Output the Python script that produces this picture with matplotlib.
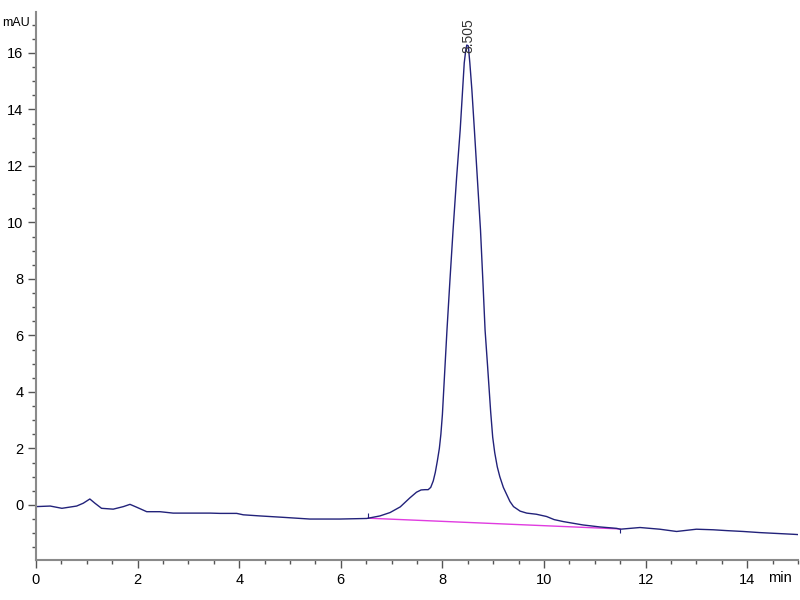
import numpy as np
import matplotlib.pyplot as plt
from matplotlib.ticker import MultipleLocator

plt.rcParams['font.family'] = ['Liberation Sans', 'DejaVu Sans']

# chromatogram trace (min, mAU)
time = [0.0, 0.28, 0.51, 0.80, 0.93, 1.06, 1.16, 1.29, 1.52, 1.72, 1.85, 1.98,
        2.18, 2.44, 2.70, 3.03, 3.43, 3.62, 3.95, 4.08, 4.41, 4.87, 5.39, 5.98,
        6.51, 6.54, 6.77, 6.97, 7.17, 7.36, 7.49, 7.58, 7.66, 7.72, 7.77, 7.82,
        7.86, 7.90, 7.94, 7.97, 8.00, 8.03, 8.09, 8.15, 8.21, 8.28, 8.35, 8.43,
        8.46, 8.48, 8.51, 8.54, 8.58, 8.63, 8.69, 8.75, 8.80, 8.84, 8.89, 8.95,
        8.99, 9.03, 9.08, 9.13, 9.20, 9.27, 9.33, 9.40, 9.53, 9.66, 9.85, 10.05,
        10.20, 10.38, 10.77, 11.10, 11.43, 11.50, 11.89, 12.28, 12.61, 13.00,
        13.33, 13.60, 13.92, 14.25, 14.91, 15.0]
signal = [-0.06, -0.04, -0.12, -0.04, 0.06, 0.21, 0.06, -0.12, -0.15, -0.06, 0.02, -0.08,
          -0.24, -0.24, -0.29, -0.29, -0.29, -0.30, -0.30, -0.35, -0.39, -0.44, -0.50, -0.50,
          -0.48, -0.47, -0.39, -0.27, -0.07, 0.25, 0.45, 0.53, 0.54, 0.54, 0.62, 0.85,
          1.15, 1.55, 2.00, 2.50, 3.20, 4.20, 6.19, 8.00, 9.73, 11.60, 13.27, 15.65,
          16.10, 16.28, 16.25, 15.65, 14.70, 13.27, 11.50, 9.73, 7.80, 6.19, 4.90, 3.30,
          2.40, 1.85, 1.35, 1.00, 0.62, 0.35, 0.12, -0.06, -0.22, -0.29, -0.33, -0.41,
          -0.52, -0.59, -0.71, -0.78, -0.83, -0.86, -0.80, -0.86, -0.94, -0.86,
          -0.88, -0.91, -0.94, -0.98, -1.04, -1.05]

# integration baseline
bl_time = [6.54, 11.50]
bl_signal = [-0.47, -0.85]

peak_rt = 8.505
peak_top = 16.0
peak_label = "8.505"

fig = plt.figure(figsize=(8, 6), dpi=100)
ax = fig.add_axes([36 / 800, 40 / 600, 762 / 800, 548 / 600])

ax.plot(bl_time, bl_signal, color='#e03ce0', lw=1.0)
ax.plot(time, signal, color='#22227a', lw=1.0)
ax.vlines(bl_time[0], bl_signal[0], bl_signal[0] + 0.17, color='#22227a', lw=0.8)
ax.vlines(bl_time[1], bl_signal[1] - 0.15, bl_signal[1], color='#22227a', lw=0.8)

ax.text(peak_rt, peak_top, peak_label, rotation=90, ha='center', va='bottom',
        fontsize=10, color='#333333')

ax.set_xlim(0, 15)
ax.set_ylim(-1.95, 17.45)
ax.xaxis.set_major_locator(MultipleLocator(2))
ax.xaxis.set_minor_locator(MultipleLocator(0.5))
ax.yaxis.set_minor_locator(MultipleLocator(0.5))
ax.set_yticks(np.arange(0, 17, 2))

for s in ['top', 'right']:
    ax.spines[s].set_visible(False)
for s in ['left', 'bottom']:
    ax.spines[s].set_color('#8a8a8a')
    ax.spines[s].set_linewidth(1.5)

ax.tick_params(which='major', length=6, width=1, color='#555555', labelsize=10.5, pad=3)
ax.tick_params(which='minor', length=3, width=1, color='#555555')

fig.text(2 / 800, 1 - 23 / 600, 'mAU', ha='left', va='center', fontsize=9)
fig.text(780 / 800, 1 - 578 / 600, 'min', ha='center', va='center', fontsize=10.5)

fig.savefig('out.png', dpi=100)
